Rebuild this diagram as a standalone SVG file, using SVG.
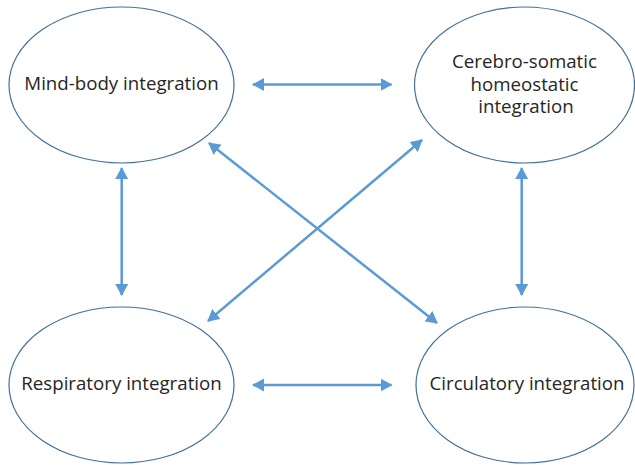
<svg xmlns="http://www.w3.org/2000/svg" width="635" height="465" viewBox="0 0 635 465">
<style>
.node ellipse{fill:#fff;stroke:#41719C;stroke-width:1.2}
.node text{font-family:"Open Sans","Noto Sans","Liberation Sans",sans-serif;font-size:18.7px;fill:#262626;text-anchor:middle}
.conn line{stroke:#5B9BD5;stroke-width:2.5;marker-start:url(#ah);marker-end:url(#ah)}
</style>
<defs>
<marker id="ah" viewBox="0 0 12 13" refX="11" refY="6.5" markerWidth="12" markerHeight="13" markerUnits="userSpaceOnUse" orient="auto-start-reverse">
<path d="M0,0 L12,6.5 L0,13 z" fill="#5B9BD5"/>
</marker>
</defs>
<rect width="635" height="465" fill="#fff"/>
<g id="mind-body" class="node">
<ellipse cx="121.5" cy="85" rx="112.5" ry="78"/>
<text x="121.5" y="90">Mind-body integration</text>
</g>
<g id="cerebro-somatic" class="node">
<ellipse cx="524.5" cy="85" rx="110" ry="78"/>
<text><tspan x="524.5" y="68">Cerebro-somatic</tspan><tspan x="524.5" y="91">homeostatic</tspan><tspan x="526" y="113">integration</tspan></text>
</g>
<g id="respiratory" class="node">
<ellipse cx="121.5" cy="385" rx="112.5" ry="78"/>
<text x="121.5" y="390">Respiratory integration</text>
</g>
<g id="circulatory" class="node">
<ellipse cx="525" cy="385" rx="109" ry="78"/>
<text x="527" y="390">Circulatory integration</text>
</g>
<g id="connectors" class="conn">
<line x1="253" y1="84.5" x2="391.5" y2="84.5"/>
<line x1="253" y1="385" x2="391.5" y2="385"/>
<line x1="121.7" y1="168" x2="121.7" y2="295"/>
<line x1="521.7" y1="168" x2="521.7" y2="295"/>
<line x1="209" y1="143" x2="437" y2="323"/>
<line x1="422" y1="140" x2="208" y2="321"/>
</g>
</svg>
